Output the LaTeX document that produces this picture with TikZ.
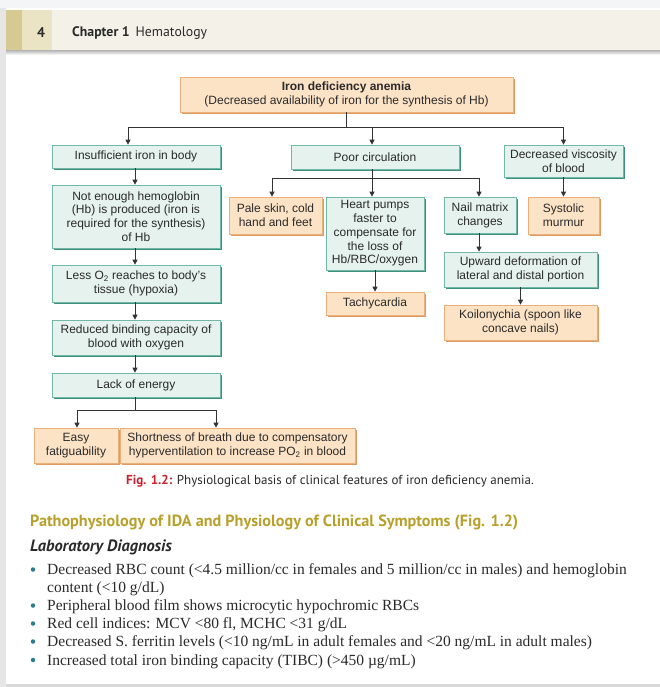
\documentclass[tikz,border=0pt]{standalone}
\usepackage{fontspec}
\setmainfont{Liberation Serif}
\setsansfont{Liberation Sans}
\newfontfamily\ptsans{PT Sans}
\usetikzlibrary{shadows,arrows.meta}
\definecolor{ofill}{HTML}{FDE3C6}
\definecolor{odraw}{HTML}{EBB07A}
\definecolor{oshadow}{HTML}{DD9A62}
\definecolor{gfill}{HTML}{E5F2ED}
\definecolor{gdraw}{HTML}{72B8A7}
\definecolor{gshadow}{HTML}{3F8F7E}
\definecolor{arrowc}{HTML}{333333}
\definecolor{headband}{HTML}{F4F2E8}
\definecolor{golddark}{HTML}{D6CA92}
\definecolor{goldlight}{HTML}{EAE3C4}
\definecolor{figred}{HTML}{C8202F}
\definecolor{headolive}{HTML}{B7A12C}
\definecolor{bulletc}{HTML}{2E7C8C}
\definecolor{txt}{HTML}{2A2A2A}
\definecolor{topbg}{HTML}{F3F5F7}
\definecolor{leftstrip}{HTML}{E6E6E6}
\definecolor{bottomstrip}{HTML}{D8D8D8}
\tikzset{
  box/.style={line width=0.7pt, align=center, inner sep=1pt, text=txt,
    font=\sffamily\fontsize{12}{13.8}\selectfont},
  obox/.style={box, fill=ofill, draw=odraw,
    drop shadow={shadow xshift=1.8pt, shadow yshift=-1.8pt, fill=oshadow, opacity=1}},
  gbox/.style={box, fill=gfill, draw=gdraw,
    drop shadow={shadow xshift=1.8pt, shadow yshift=-1.8pt, fill=gshadow, opacity=1}},
  arr/.style={draw=arrowc, line width=0.8pt, -{Triangle[length=5pt,width=5pt]}},
  ln/.style={draw=arrowc, line width=0.8pt},
  bul/.style={anchor=base west, inner sep=0pt, text=txt, font=\fontsize{15.5}{18}\selectfont},
  dot/.style={circle, fill=bulletc, inner sep=0pt, minimum size=4.5pt}
}
\begin{document}
\begin{tikzpicture}[x=1pt,y=-1pt]
\useasboundingbox (0,0) rectangle (660,687);
% page background
\fill[topbg] (0,0) rectangle (660,687);
\fill[white] (6,8) rectangle (660,684);
\fill[leftstrip] (0,8) rectangle (6,687);
\fill[bottomstrip] (6,684) rectangle (660,687);
% header band
\shade[top color=gray!60, bottom color=white] (6,50) rectangle (660,55);
\fill[headband] (6,10) rectangle (660,50);
\fill[golddark] (6,10) rectangle (22,50);
\fill[goldlight] (22,10) rectangle (52,50);
\node[font=\ptsans\bfseries\fontsize{14}{16}\selectfont, text=txt] (pnum) at (41,33) {4};
\node[anchor=west, font=\ptsans\fontsize{13.8}{16}\selectfont, text=txt, inner sep=0pt] (chap) at (72,33) {\textbf{Chapter 1}\, Hematology};

% nodes
\node[obox, minimum width=333, minimum height=35] (title) at (346.5,94.5)
  {\textbf{Iron deficiency anemia}\\(Decreased availability of iron for the synthesis of Hb)};
\node[gbox, minimum width=168, minimum height=23] (ins) at (136,156.5) {Insufficient iron in body};
\node[gbox, minimum width=168, minimum height=24] (poor) at (375,157) {Poor circulation};
\node[gbox, minimum width=119, minimum height=32] (visc) at (563.5,161) {Decreased viscosity\\of blood};
\node[obox, minimum width=93, minimum height=37] (pale) at (275.5,215.5) {Pale skin, cold\\hand and feet};
\node[gbox, minimum width=98, minimum height=73] (heart) at (375,233.5) {Heart pumps\\faster to\\compensate for\\the loss of\\Hb/RBC/oxygen};
\node[gbox, minimum width=72, minimum height=36] (nail) at (480,215) {Nail matrix\\changes};
\node[obox, minimum width=71, minimum height=37] (syst) at (563.5,215.5) {Systolic\\murmur};
\node[gbox, minimum width=168, minimum height=63] (noten) at (136,216.5) {Not enough hemoglobin\\(Hb) is produced (iron is\\required for the synthesis)\\of Hb};
\node[gbox, minimum width=153, minimum height=35] (upw) at (520.5,269.5) {Upward deformation of\\lateral and distal portion};
\node[obox, minimum width=98, minimum height=23] (tachy) at (375,303.5) {Tachycardia};
\node[obox, minimum width=153, minimum height=35] (koil) at (520.5,322.5) {Koilonychia (spoon like\\concave nails)};
\node[gbox, minimum width=168, minimum height=37] (less) at (136,283.5) {Less O\textsubscript{2} reaches to body’s\\tissue (hypoxia)};
\node[gbox, minimum width=168, minimum height=35] (red) at (136,337.5) {Reduced binding capacity of\\blood with oxygen};
\node[gbox, minimum width=168, minimum height=24] (lack) at (136,385) {Lack of energy};
\node[obox, minimum width=84, minimum height=35] (easy) at (76,445.5) {Easy\\fatiguability};
\node[obox, minimum width=235, minimum height=35] (short) at (237.5,445.5) {Shortness of breath due to compensatory\\hyperventilation to increase PO\textsubscript{2} in blood};

% connectors
\draw[ln] (title.south) -- ++(0,15.5) coordinate (bus1);
\draw[arr] (bus1) -| ([xshift=-8pt]ins.north);
\draw[arr] (bus1) -| ([xshift=-3pt]poor.north);
\draw[arr] (bus1) -| (visc.north);
\draw[ln] ([xshift=-3pt]poor.south) -- ++(0,9) coordinate (bus2);
\draw[arr] (bus2) -| ([xshift=-3.5pt]pale.north);
\draw[arr] (bus2) -- ([xshift=-3pt]heart.north);
\draw[arr] (bus2) -| ([xshift=-1pt]nail.north);
\draw[arr] (visc.south) -- (syst.north);
\draw[arr] (heart.south) -- (tachy.north);
\draw[arr] ([xshift=-1pt]nail.south) -- ([xshift=-1pt]nail.south |- upw.north);
\draw[arr] (upw.south) -- (koil.north);
\draw[arr] ([xshift=-1pt]ins.south) -- ([xshift=-1pt]noten.north);
\draw[arr] ([xshift=-1pt]noten.south) -- ([xshift=-1pt]less.north);
\draw[arr] ([xshift=-1pt]less.south) -- ([xshift=-1pt]red.north);
\draw[arr] ([xshift=-1pt]red.south) -- ([xshift=-1pt]lack.north);
\draw[ln] ([xshift=-1pt]lack.south) -- ++(0,13) coordinate (bus3);
\draw[arr] (bus3) -| ([xshift=1pt]easy.north);
\draw[arr] (bus3) -| ([xshift=-21.5pt]short.north);

% caption
\node[font=\ptsans\fontsize{13}{15}\selectfont, text=txt] (cap) at (330,481)
  {\textcolor{figred}{\textbf{Fig. 1.2:}} Physiological basis of clinical features of iron deficiency anemia.};

% text section
\node[anchor=west, inner sep=0pt, text=headolive, font=\ptsans\bfseries\fontsize{16.2}{18}\selectfont] (head) at (30,522)
  {Pathophysiology of IDA and Physiology of Clinical Symptoms (Fig. 1.2)};
\node[anchor=west, inner sep=0pt, text=txt, font=\ptsans\bfseries\itshape\fontsize{16.4}{18}\selectfont] (lab) at (30,547)
  {Laboratory Diagnosis};

\node[bul] (b1) at (47,574.5) {Decreased RBC count (<4.5 million/cc in females and 5 million/cc in males) and hemoglobin};
\node[bul] (b1b) at (47,592.5) {content (<10 g/dL)};
\node[bul] (b2) at (47,610.5) {Peripheral blood film shows microcytic hypochromic RBCs};
\node[bul] (b3) at (47,628.5) {Red cell indices: MCV <80 fl, MCHC <31 g/dL};
\node[bul] (b4) at (47,646.5) {Decreased S. ferritin levels (<10 ng/mL in adult females and <20 ng/mL in adult males)};
\node[bul] (b5) at (47,665) {Increased total iron binding capacity (TIBC) (>450 µg/mL)};
\node[dot] (d1) at (33,569.5) {};
\node[dot] (d2) at (33,605.5) {};
\node[dot] (d3) at (33,623.5) {};
\node[dot] (d4) at (33,641.5) {};
\node[dot] (d5) at (33,660) {};
\end{tikzpicture}
\end{document}
